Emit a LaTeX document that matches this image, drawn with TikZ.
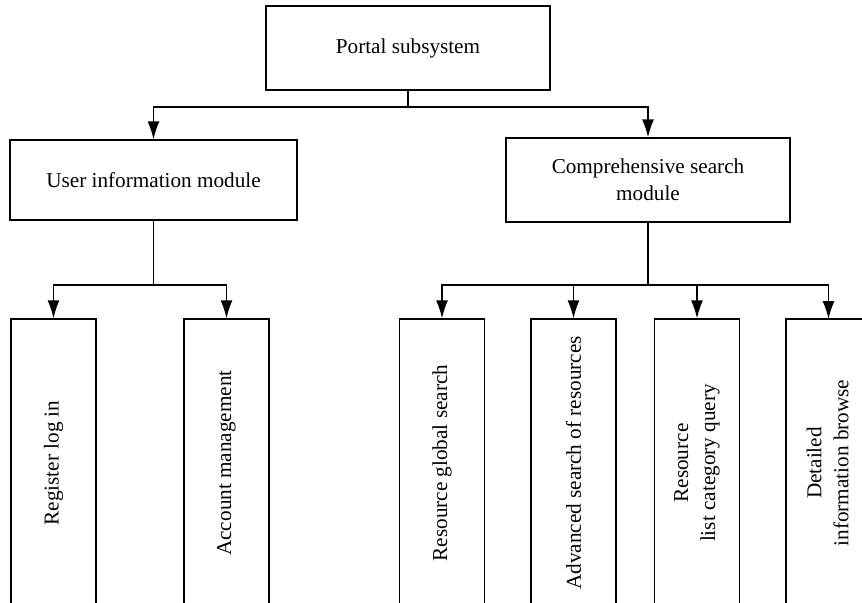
\documentclass[tikz,border=0pt]{standalone}
\usepackage{fontspec}
\setmainfont{Liberation Serif}
\usetikzlibrary{arrows.meta, positioning}

\begin{document}
\begin{tikzpicture}[x=0.5pt, y=-0.5pt,
    box/.style={draw=black, line width=0.7pt, align=center, inner sep=2pt, font=\fontsize{10.6}{13.5}\selectfont},
    module/.style={box, minimum width=142pt, minimum height=42pt},
    leaf/.style={box, rotate=90, minimum width=144pt, minimum height=42.5pt},
    arr/.style={-{Latex[length=9pt, width=6pt]}, line width=0.7pt},
    bus/.style={line width=0.7pt}]
    \useasboundingbox (0,0) rectangle (862,602);
    \clip (0,0) rectangle (862,602);

    \node[module] (portal) at (408, 48) {Portal subsystem};
    \node[module, minimum width=143.5pt, minimum height=40pt] (user) at (153.5, 180) {User information module};
    \node[module] (search) at (648, 180) {Comprehensive search\\module};

    \node[leaf] (register) at (53.5, 463) {Register log in};
    \node[leaf] (account) at (226.5, 463) {Account management};
    \node[leaf] (global) at (442, 463) {Resource global search};
    \node[leaf] (advanced) at (573.5, 463) {Advanced search of resources};
    \node[leaf] (listquery) at (697, 463) {Resource\\list category query};
    % box runs past the right edge, text kept near x=828
    \node[leaf, minimum height=55pt] (detailed) at (841, 463) {Detailed\\information browse\\\mbox{}};

    \coordinate (topbus) at (408, 107);
    \coordinate (userbus) at (153.5, 285);
    \coordinate (searchbus) at (648, 285);
    \coordinate (detailedtop) at (828.5, 319);

    \draw[bus] (portal) -- (topbus);
    \draw[arr] (topbus) -| (user.north);
    \draw[arr] (topbus) -| (search.north);

    \draw[bus] (user) -- (userbus);
    \draw[arr] (userbus) -| (register.east);
    \draw[arr] (userbus) -| (account.east);

    \draw[bus] (search) -- (searchbus);
    \draw[arr] (searchbus) -| (global.east);
    \draw[arr] (searchbus) -| (advanced.east);
    \draw[arr] (searchbus) -| (listquery.east);
    \draw[arr] (searchbus) -| (detailedtop);
\end{tikzpicture}
\end{document}
